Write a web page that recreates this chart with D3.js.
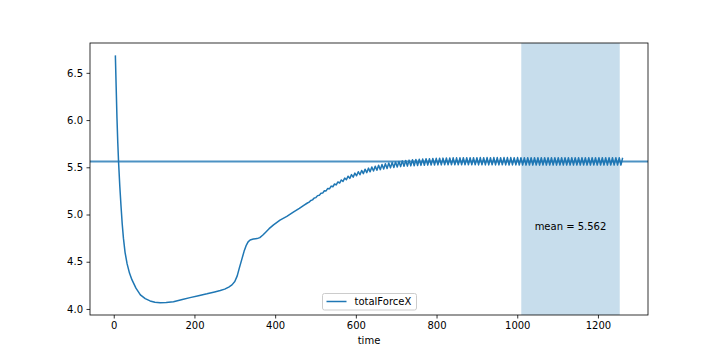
<!DOCTYPE html>
<html>
<head>
<meta charset="utf-8">
<script src="https://cdn.jsdelivr.net/npm/d3@7"></script>
<style>
html,body{margin:0;padding:0;background:#fff;}
svg{display:block;font-family:"DejaVu Sans",sans-serif;}
</style>
</head>
<body>
<svg id="chart" width="720" height="360"></svg>
<script>
// ---- data ----
const time = [
  4, 6, 8, 10, 12, 15, 18, 21, 24, 28, 33, 39, 45, 55, 66, 78, 90, 102, 115, 130,
  148, 170, 189, 210, 231, 250, 264, 275, 285, 293, 300, 306, 311, 317, 323, 328, 333, 338, 346, 355,
  362, 369, 376, 385, 396, 412, 429, 445, 460, 470,
  480.0, 484.2, 488.4, 492.6, 496.8, 501.0, 505.2, 509.4, 513.6, 517.8, 522.0, 526.2, 530.4, 534.6, 538.8,
  543.0, 547.2, 551.4, 555.6, 559.8, 564.0, 568.2, 572.4, 576.6, 580.8, 585.0, 589.2, 593.4, 597.6, 601.8,
  606.0, 610.2, 614.4, 618.6, 622.8, 627.0, 631.2, 635.4, 639.6, 643.8, 648.0, 652.2, 656.4, 660.6, 664.8,
  669.0, 673.2, 677.4, 681.6, 685.8, 690.0, 694.2, 698.4, 702.6, 706.8, 711.0, 715.2, 719.4, 723.6, 727.8,
  732.0, 736.2, 740.4, 744.6, 748.8, 753.0, 757.2, 761.4, 765.6, 769.8, 774.0, 778.2, 782.4, 786.6, 790.8,
  795.0, 799.2, 803.4, 807.6, 811.8, 816.0, 820.2, 824.4, 828.6, 832.8, 837.0, 841.2, 845.4, 849.6, 853.8,
  858.0, 862.2, 866.4, 870.6, 874.8, 879.0, 883.2, 887.4, 891.6, 895.8, 900.0, 904.2, 908.4, 912.6, 916.8,
  921.0, 925.2, 929.4, 933.6, 937.8, 942.0, 946.2, 950.4, 954.6, 958.8, 963.0, 967.2, 971.4, 975.6, 979.8,
  984.0, 988.2, 992.4, 996.6, 1000.8, 1005.0, 1009.2, 1013.4, 1017.6, 1021.8, 1026.0, 1030.2, 1034.4, 1038.6, 1042.8,
  1047.0, 1051.2, 1055.4, 1059.6, 1063.8, 1068.0, 1072.2, 1076.4, 1080.6, 1084.8, 1089.0, 1093.2, 1097.4, 1101.6, 1105.8,
  1110.0, 1114.2, 1118.4, 1122.6, 1126.8, 1131.0, 1135.2, 1139.4, 1143.6, 1147.8, 1152.0, 1156.2, 1160.4, 1164.6, 1168.8,
  1173.0, 1177.2, 1181.4, 1185.6, 1189.8, 1194.0, 1198.2, 1202.4, 1206.6, 1210.8, 1215.0, 1219.2, 1223.4, 1227.6, 1231.8,
  1236.0, 1240.2, 1244.4, 1248.6, 1252.8, 1257.0, 1261.2
];
const totalForceX = [
  6.685, 6.35, 6.02, 5.76, 5.55, 5.30, 5.09, 4.90, 4.75, 4.60, 4.48, 4.38, 4.31, 4.22, 4.15, 4.11, 4.085, 4.072, 4.067, 4.068,
  4.077, 4.10, 4.12, 4.14, 4.16, 4.18, 4.195, 4.21, 4.232, 4.255, 4.29, 4.35, 4.43, 4.52, 4.61, 4.67, 4.71, 4.73, 4.74, 4.745,
  4.755, 4.78, 4.81, 4.85, 4.89, 4.94, 4.98, 5.025, 5.065, 5.095,
  5.122, 5.131, 5.148, 5.155, 5.174, 5.179, 5.200, 5.203, 5.226, 5.227, 5.252, 5.250, 5.276, 5.272, 5.301,
  5.294, 5.323, 5.313, 5.345, 5.333, 5.366, 5.350, 5.386, 5.368, 5.406, 5.383, 5.422, 5.396, 5.438, 5.410,
  5.453, 5.421, 5.467, 5.433, 5.480, 5.443, 5.491, 5.452, 5.503, 5.461, 5.512, 5.468, 5.521, 5.475, 5.529,
  5.482, 5.537, 5.488, 5.545, 5.494, 5.552, 5.498, 5.557, 5.502, 5.562, 5.507, 5.568, 5.510, 5.571, 5.512,
  5.576, 5.515, 5.580, 5.517, 5.582, 5.519, 5.585, 5.520, 5.587, 5.522, 5.590, 5.523, 5.591, 5.524, 5.594,
  5.524, 5.595, 5.525, 5.596, 5.525, 5.597, 5.526, 5.598, 5.526, 5.598, 5.526, 5.600, 5.526, 5.600, 5.526,
  5.600, 5.527, 5.601, 5.527, 5.602, 5.526, 5.602, 5.526, 5.602, 5.526, 5.602, 5.525, 5.603, 5.526, 5.602,
  5.525, 5.603, 5.525, 5.602, 5.526, 5.603, 5.525, 5.603, 5.525, 5.602, 5.526, 5.603, 5.525, 5.603, 5.524,
  5.603, 5.525, 5.602, 5.525, 5.603, 5.524, 5.602, 5.524, 5.601, 5.523, 5.602, 5.524, 5.601, 5.523, 5.602,
  5.524, 5.601, 5.523, 5.601, 5.524, 5.602, 5.523, 5.601, 5.524, 5.601, 5.523, 5.602, 5.523, 5.601, 5.524,
  5.601, 5.523, 5.602, 5.524, 5.601, 5.523, 5.601, 5.523, 5.602, 5.524, 5.601, 5.523, 5.601, 5.524, 5.602,
  5.523, 5.601, 5.523, 5.601, 5.524, 5.602, 5.523, 5.601, 5.524, 5.601, 5.523, 5.602, 5.523, 5.601, 5.524,
  5.601, 5.523, 5.602, 5.524, 5.601, 5.523, 5.601
];
const meanValue = 5.562;
const spanRange = [1010, 1254];
const xTicks = [0, 200, 400, 600, 800, 1000, 1200];
const yTicks = [4.0, 4.5, 5.0, 5.5, 6.0, 6.5];
const seriesName = "totalForceX";
const xLabel = "time";

// ---- layout ----
const svg = d3.select("#chart");
const m = {left: 90, right: 648, top: 43, bottom: 315};
const C0 = "#1f77b4";

const pts = time.map((t, i) => ({t, v: totalForceX[i]}));
const xe = d3.extent(time), ye = d3.extent(totalForceX);
const xp = (xe[1] - xe[0]) * 0.05, yp = (ye[1] - ye[0]) * 0.05;
const x = d3.scaleLinear().domain([xe[0] - xp, xe[1] + xp]).range([m.left, m.right]);
const y = d3.scaleLinear().domain([ye[0] - yp, ye[1] + yp]).range([m.bottom, m.top]);

// span
svg.append("rect")
  .attr("x", x(spanRange[0])).attr("y", m.top)
  .attr("width", x(spanRange[1]) - x(spanRange[0]))
  .attr("height", m.bottom - m.top)
  .attr("fill", C0).attr("fill-opacity", 0.25);

// data line
svg.append("path")
  .datum(pts)
  .attr("fill", "none")
  .attr("stroke", C0)
  .attr("stroke-width", 1.5)
  .attr("stroke-linejoin", "round")
  .attr("d", d3.line().x(d => x(d.t)).y(d => y(d.v)));

// mean line
svg.append("line")
  .attr("x1", m.left).attr("x2", m.right)
  .attr("y1", y(meanValue)).attr("y2", y(meanValue))
  .attr("stroke", C0).attr("stroke-opacity", 0.8).attr("stroke-width", 2);

// mean text
svg.append("text")
  .attr("x", x((spanRange[0] + spanRange[1]) / 2))
  .attr("y", y(4.87))
  .attr("dy", "0.35em")
  .attr("text-anchor", "middle")
  .attr("font-size", 10)
  .attr("fill", "#000")
  .text("mean = " + meanValue.toFixed(3));

// axes
const xAxis = d3.axisBottom(x).tickValues(xTicks).tickSize(3.5).tickPadding(3.5).tickFormat(d3.format("d"));
const yAxis = d3.axisLeft(y).tickValues(yTicks).tickSize(3.5).tickPadding(3.5).tickFormat(d3.format(".1f"));
const gx = svg.append("g").attr("transform", `translate(0,${m.bottom})`).call(xAxis);
const gy = svg.append("g").attr("transform", `translate(${m.left},0)`).call(yAxis);
[gx, gy].forEach(g => {
  g.select(".domain").remove();
  g.selectAll(".tick line").attr("stroke", "#000").attr("stroke-width", 0.8);
  g.selectAll(".tick text").attr("font-size", 10).attr("fill", "#000")
    .attr("font-family", "DejaVu Sans, sans-serif");
});

// frame
svg.append("rect")
  .attr("x", m.left).attr("y", m.top)
  .attr("width", m.right - m.left).attr("height", m.bottom - m.top)
  .attr("fill", "none").attr("stroke", "#000").attr("stroke-width", 0.8);

// x label
svg.append("text")
  .attr("x", (m.left + m.right) / 2).attr("y", 344)
  .attr("text-anchor", "middle").attr("font-size", 10).attr("fill", "#000")
  .text(xLabel);

// legend
const lg = svg.append("g");
lg.append("rect")
  .attr("x", 322.5).attr("y", 293.5).attr("width", 94).attr("height", 16.5)
  .attr("rx", 2).attr("fill", "#fff").attr("fill-opacity", 0.8)
  .attr("stroke", "#cccccc").attr("stroke-width", 1);
lg.append("line")
  .attr("x1", 326.5).attr("x2", 346.5).attr("y1", 301.5).attr("y2", 301.5)
  .attr("stroke", C0).attr("stroke-width", 1.5);
lg.append("text")
  .attr("x", 354.5).attr("y", 301.5).attr("dy", "0.35em")
  .attr("font-size", 10).attr("fill", "#000")
  .text(seriesName);
</script>
</body>
</html>
